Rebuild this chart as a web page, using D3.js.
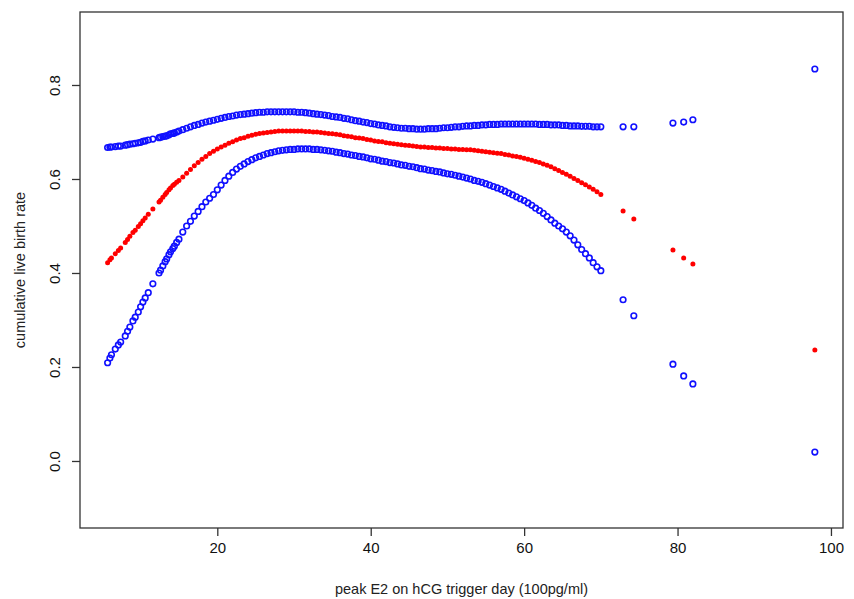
<!DOCTYPE html>
<html>
<head>
<meta charset="utf-8">
<script src="https://cdn.jsdelivr.net/npm/d3@7"></script>
<style>
  html, body { margin: 0; padding: 0; background: #fff; }
  svg { display: block; }
  text { font-family: "Liberation Sans", Arial, sans-serif; }
</style>
</head>
<body>
<svg id="chart" width="854" height="599"></svg>
<script>
// peak E2 on hCG trigger day (100pg/ml)
const peakE2 = [
  5.7, 6.0, 6.2, 6.7, 7.1, 7.4, 8.0, 8.3, 8.6, 9.0,
  9.3, 9.7, 10.0, 10.3, 10.6, 11.0, 11.6, 12.4, 12.6, 12.9,
  13.2, 13.4, 13.7, 13.9, 14.2, 14.4, 14.7,
  15.0, 15.5, 16.0, 16.5, 17.0, 17.5, 18.0, 18.5, 19.0, 19.5,
  20.0, 20.5, 21.0, 21.5, 22.0, 22.5, 23.0, 23.5, 24.0, 24.5,
  25.0, 25.5, 26.0, 26.5, 27.0, 27.5, 28.0, 28.5, 29.0, 29.5,
  30.0, 30.5, 31.0, 31.5, 32.0, 32.5, 33.0, 33.5, 34.0, 34.5,
  35.0, 35.5, 36.0, 36.5, 37.0, 37.5, 38.0, 38.5, 39.0, 39.5,
  40.0, 40.5, 41.0, 41.5, 42.0, 42.5, 43.0, 43.5, 44.0, 44.5,
  45.0, 45.5, 46.0, 46.5, 47.0, 47.5, 48.0, 48.5, 49.0, 49.5,
  50.0, 50.5, 51.0, 51.5, 52.0, 52.5, 53.0, 53.5, 54.0, 54.5,
  55.0, 55.5, 56.0, 56.5, 57.0, 57.5, 58.0, 58.5, 59.0, 59.5,
  60.0, 60.5, 61.0, 61.5, 62.0, 62.5, 63.0, 63.5, 64.0, 64.5,
  65.0, 65.5, 66.0, 66.5, 67.0, 67.5, 68.0, 68.5, 69.0, 69.5,
  70.0,
  72.9, 74.3, 79.4, 80.8, 82.0, 97.9
];

// fitted cumulative live birth rate (red)
const fitRate = [
  0.422, 0.428, 0.432, 0.441, 0.448, 0.453, 0.465, 0.471, 0.478, 0.486,
  0.491, 0.499, 0.505, 0.511, 0.517, 0.525, 0.536, 0.551, 0.555, 0.561,
  0.567, 0.571, 0.577, 0.581, 0.586, 0.589, 0.593,
  0.597, 0.604, 0.612, 0.620, 0.628, 0.635, 0.642, 0.648, 0.654, 0.659,
  0.664, 0.668, 0.672, 0.676, 0.679, 0.683, 0.686, 0.688, 0.691, 0.693,
  0.695, 0.697, 0.698, 0.699, 0.700, 0.701, 0.702, 0.702, 0.702, 0.702,
  0.702, 0.702, 0.702, 0.701, 0.701, 0.700, 0.700, 0.699, 0.698, 0.697,
  0.696, 0.695, 0.694, 0.692, 0.691, 0.690, 0.688, 0.687, 0.686, 0.684,
  0.683, 0.681, 0.680, 0.679, 0.677, 0.676, 0.675, 0.674, 0.673, 0.672,
  0.671, 0.670, 0.669, 0.668, 0.668, 0.667, 0.667, 0.666, 0.666, 0.665,
  0.665, 0.664, 0.664, 0.663, 0.663, 0.662, 0.662, 0.661, 0.660, 0.659,
  0.658, 0.657, 0.656, 0.655, 0.654, 0.652, 0.651, 0.649, 0.648, 0.646,
  0.644, 0.642, 0.640, 0.637, 0.635, 0.632, 0.629, 0.626, 0.622, 0.618,
  0.614, 0.610, 0.606, 0.601, 0.597, 0.592, 0.588, 0.583, 0.578, 0.573,
  0.567,
  0.532, 0.515, 0.449, 0.432, 0.419, 0.236
];

// upper 95% confidence bound (blue)
const upperCI = [
  0.667, 0.668, 0.668, 0.669, 0.670, 0.670, 0.672, 0.673, 0.674, 0.675,
  0.676, 0.677, 0.678, 0.680, 0.681, 0.683, 0.685, 0.688, 0.689, 0.690,
  0.691, 0.692, 0.694, 0.696, 0.697, 0.698, 0.700,
  0.702, 0.705, 0.708, 0.711, 0.714, 0.716, 0.719, 0.721, 0.723, 0.725,
  0.727, 0.729, 0.731, 0.733, 0.734, 0.736, 0.737, 0.738, 0.739, 0.740,
  0.741, 0.742, 0.742, 0.743, 0.743, 0.743, 0.743, 0.743, 0.743, 0.743,
  0.743, 0.742, 0.742, 0.741, 0.740, 0.739, 0.738, 0.737, 0.736, 0.735,
  0.733, 0.732, 0.731, 0.729, 0.728, 0.726, 0.724, 0.723, 0.721, 0.720,
  0.718, 0.717, 0.715, 0.714, 0.713, 0.711, 0.710, 0.709, 0.708, 0.708,
  0.707, 0.707, 0.706, 0.706, 0.706, 0.707, 0.707, 0.707, 0.708, 0.709,
  0.709, 0.710, 0.711, 0.711, 0.712, 0.713, 0.713, 0.714, 0.714, 0.715,
  0.715, 0.716, 0.716, 0.716, 0.717, 0.717, 0.717, 0.717, 0.717, 0.717,
  0.717, 0.717, 0.717, 0.717, 0.716, 0.716, 0.716, 0.715, 0.715, 0.715,
  0.714, 0.714, 0.713, 0.713, 0.713, 0.712, 0.712, 0.712, 0.711, 0.711,
  0.711,
  0.711, 0.711, 0.719, 0.721, 0.726, 0.834
];

// lower 95% confidence bound (blue)
const lowerCI = [
  0.209, 0.219, 0.226, 0.238, 0.247, 0.253, 0.266, 0.276, 0.285, 0.298,
  0.306, 0.317, 0.328, 0.338, 0.347, 0.358, 0.377, 0.400, 0.406, 0.415,
  0.424, 0.430, 0.439, 0.445, 0.452, 0.457, 0.465,
  0.472, 0.487, 0.500, 0.510, 0.521, 0.531, 0.541, 0.551, 0.559, 0.567,
  0.577, 0.587, 0.597, 0.606, 0.614, 0.621, 0.627, 0.632, 0.637, 0.641,
  0.645, 0.648, 0.651, 0.654, 0.656, 0.658, 0.660, 0.661, 0.662, 0.663,
  0.663, 0.664, 0.664, 0.664, 0.664, 0.663, 0.663, 0.662, 0.661, 0.660,
  0.659, 0.657, 0.656, 0.654, 0.653, 0.651, 0.650, 0.648, 0.647, 0.645,
  0.643, 0.642, 0.640, 0.638, 0.637, 0.635, 0.634, 0.632, 0.630, 0.629,
  0.627, 0.626, 0.624, 0.622, 0.621, 0.619, 0.618, 0.616, 0.615, 0.613,
  0.611, 0.610, 0.608, 0.606, 0.604, 0.602, 0.600, 0.597, 0.595, 0.593,
  0.590, 0.587, 0.584, 0.581, 0.578, 0.574, 0.570, 0.566, 0.562, 0.558,
  0.554, 0.549, 0.544, 0.538, 0.533, 0.527, 0.520, 0.513, 0.506, 0.500,
  0.494, 0.487, 0.479, 0.470, 0.460, 0.450, 0.441, 0.432, 0.422, 0.413,
  0.405,
  0.343, 0.309, 0.206, 0.181, 0.164, 0.019
];

const xTicks = [20, 40, 60, 80, 100];
const yTicks = [0.0, 0.2, 0.4, 0.6, 0.8];
const xTitle = "peak E2 on hCG trigger day (100pg/ml)";
const yTitle = "cumulative live birth rate";

// ---- layout ----
const svg = d3.select("#chart");
const plot = { left: 80, right: 843, top: 12, bottom: 528 };

const x = d3.scaleLinear().domain([2.10, 101.57]).range([plot.left, plot.right]);
const y = d3.scaleLinear().domain([-0.1426, 0.9553]).range([plot.bottom, plot.top]);

const axisColor = "#333";

// x axis
const gx = svg.append("g")
  .attr("transform", `translate(0,${plot.bottom})`)
  .call(d3.axisBottom(x).tickValues(xTicks).tickSize(8).tickPadding(6).tickFormat(d3.format("d")));
gx.select(".domain").remove();
gx.selectAll(".tick line").attr("stroke", axisColor).attr("stroke-width", 1.3);
gx.selectAll(".tick text")
  .attr("font-size", 15).attr("fill", "#111")
  .attr("font-family", "Liberation Sans, Arial, sans-serif");

// y axis
const gy = svg.append("g")
  .attr("transform", `translate(${plot.left},0)`)
  .call(d3.axisLeft(y).tickValues(yTicks).tickSize(8).tickFormat(d3.format(".1f")));
gy.select(".domain").remove();
gy.selectAll(".tick line").attr("stroke", axisColor).attr("stroke-width", 1.3);
gy.selectAll(".tick text")
  .attr("x", null).attr("dy", null)
  .attr("transform", "translate(-26,0) rotate(-90)")
  .attr("text-anchor", "middle")
  .attr("dominant-baseline", "central")
  .attr("font-size", 15).attr("fill", "#111")
  .attr("font-family", "Liberation Sans, Arial, sans-serif");

// box
svg.append("rect")
  .attr("x", plot.left).attr("y", plot.top)
  .attr("width", plot.right - plot.left).attr("height", plot.bottom - plot.top)
  .attr("fill", "none").attr("stroke", axisColor).attr("stroke-width", 1.3);

// titles
svg.append("text")
  .attr("x", (plot.left + plot.right) / 2).attr("y", 594)
  .attr("text-anchor", "middle").attr("font-size", 14.5).attr("fill", "#222")
  .text(xTitle);
svg.append("text")
  .attr("transform", `translate(20,${(plot.top + plot.bottom) / 2}) rotate(-90)`)
  .attr("text-anchor", "middle").attr("dominant-baseline", "central")
  .attr("font-size", 14.5).attr("fill", "#222")
  .text(yTitle);

// points
const rows = peakE2.map((v, i) => ({ x: v, fit: fitRate[i], lo: lowerCI[i], hi: upperCI[i] }));

const blue = "#1010ff";
svg.append("g").selectAll("circle").data(rows).join("circle")
  .attr("cx", d => x(d.x)).attr("cy", d => y(d.lo)).attr("r", 2.8)
  .attr("fill", "none").attr("stroke", blue).attr("stroke-width", 1.6);
svg.append("g").selectAll("circle").data(rows).join("circle")
  .attr("cx", d => x(d.x)).attr("cy", d => y(d.hi)).attr("r", 2.8)
  .attr("fill", "none").attr("stroke", blue).attr("stroke-width", 1.6);
svg.append("g").selectAll("circle").data(rows).join("circle")
  .attr("cx", d => x(d.x)).attr("cy", d => y(d.fit)).attr("r", 2.5)
  .attr("fill", "#ff0000");
</script>
</body>
</html>
